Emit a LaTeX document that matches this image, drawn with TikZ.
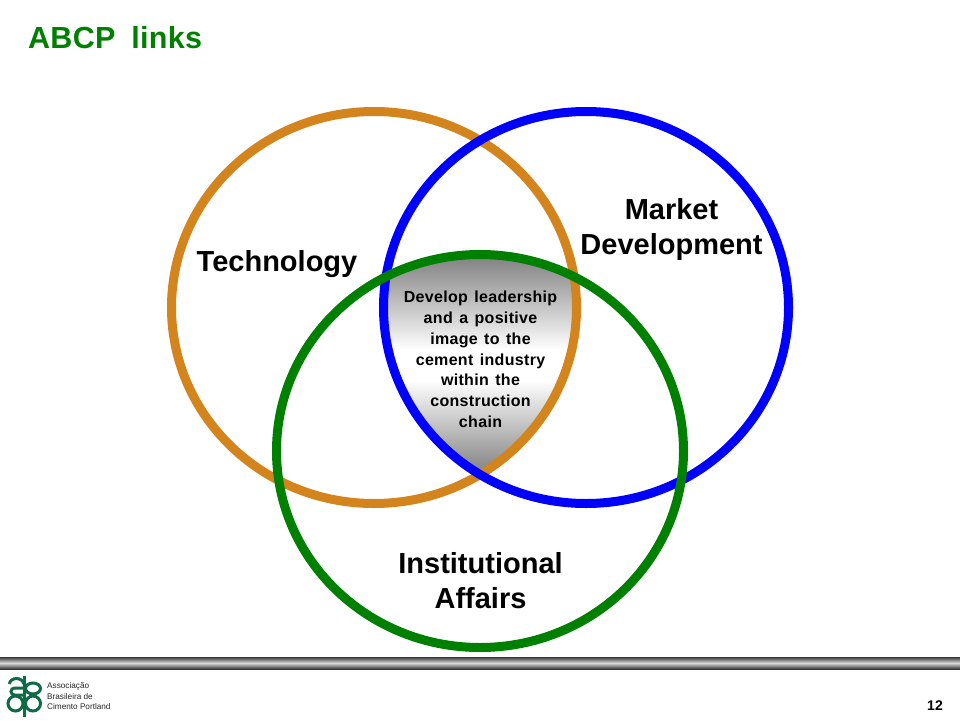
\documentclass[tikz,border=0pt]{standalone}
\usepackage{fontspec}
\setmainfont{Liberation Sans}
\newfontfamily\spaced[LetterSpace=1,WordSpace=1.8]{Liberation Sans}
\newfontfamily\spacedsmall[LetterSpace=2,WordSpace=1.35]{Liberation Sans}
\definecolor{ringorange}{HTML}{D4841C}
\definecolor{ringblue}{HTML}{0000FF}
\definecolor{ringgreen}{HTML}{008000}
\definecolor{logogreen}{HTML}{0F6B45}
\tikzset{
  ring/.style={line width=9pt},
  big/.style={font=\fontsize{29}{35}\selectfont\bfseries,align=center,text=black},
  small/.style={font=\spacedsmall\fontsize{16}{20.8}\selectfont\bfseries,align=center,text=black},
  logotext/.style={font=\fontsize{8.2}{10.5}\selectfont,align=left,text=black!85,anchor=west,inner sep=0pt},
  logoring/.style={draw=logogreen,line width=3pt}
}
\begin{document}
\begin{tikzpicture}[x=1pt,y=-1pt]
\useasboundingbox (0,0) rectangle (960,720);
\fill[white] (0,0) rectangle (960,720);
\begin{scope}
\clip (374,307.5) ellipse [x radius=202.5,y radius=196];
\clip (586,307.5) ellipse [x radius=202.5,y radius=196];
\clip (480,451) ellipse [x radius=203.5,y radius=196.5];
\shade[top color=black!50,bottom color=white] (370,255) rectangle (590,350);
\fill[white] (370,349) rectangle (590,381);
\shade[top color=white,bottom color=black!50] (370,380) rectangle (590,475);
\end{scope}
\draw[ring,draw=ringorange] (374,307.5) ellipse [x radius=202.5,y radius=196];
\draw[ring,draw=ringblue] (586,307.5) ellipse [x radius=202.5,y radius=196];
\draw[ring,draw=ringgreen] (480,451) ellipse [x radius=203.5,y radius=196.5];
\node[font=\spaced\fontsize{30.5}{35}\selectfont\bfseries,text=ringgreen,anchor=west,inner sep=0pt] (title) at (28,38) {ABCP links};
\node[big] (tech) at (277,264) {Technology};
\node[big] (market) at (671.5,229.5) {Market\\Development};
\node[big] (inst) at (480.5,581) {Institutional\\Affairs};
\node[small] (core) at (480.5,359.3) {Develop leadership\\and a positive\\image to the\\cement industry\\within the\\construction\\chain};
\shade[top color=black!78,bottom color=black!78,middle color=black!15] (0,657) rectangle (960,669);
% logo
\draw[logoring] (9.5,684) arc [start angle=180,end angle=360,x radius=7,y radius=5.5];
\draw[logoring] (24,688) -- (14.5,688) arc [start angle=270,end angle=90,radius=3.5] -- (24,695);
\draw[logoring] (15.5,703.5) circle [radius=7.5];
\draw[logoring] (33,688.5) ellipse [x radius=7.5,y radius=5.5];
\draw[logoring] (33,703.5) circle [radius=7.5];
\draw[logoring] (24.5,675.5) -- (24.5,717);
\node[logotext] (logo) at (47,696.5) {Associação\\Brasileira de\\Cimento Portland};
\node[font=\fontsize{14}{17}\selectfont\bfseries,text=black] (page) at (935,706) {12};
\end{tikzpicture}
\end{document}
